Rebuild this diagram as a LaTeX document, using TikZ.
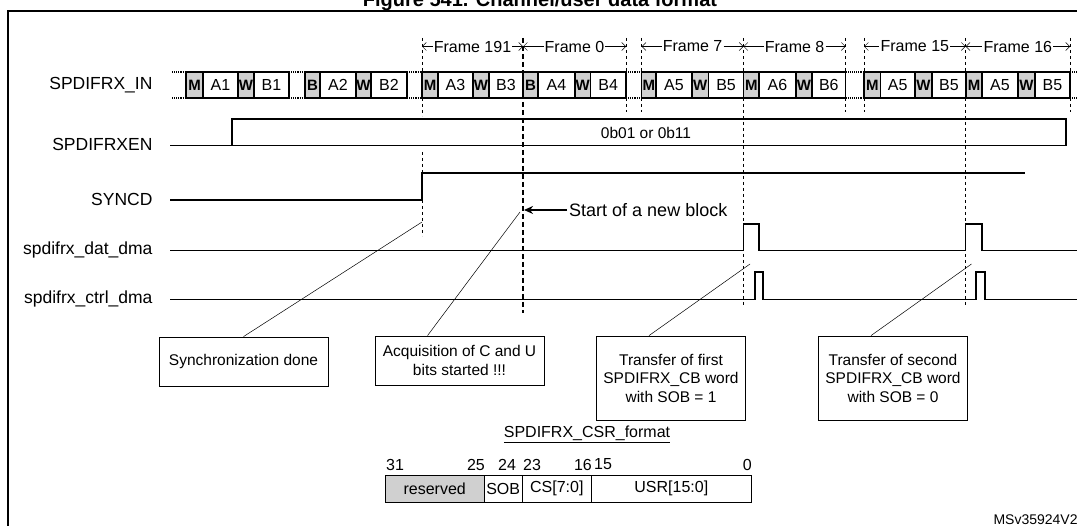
\documentclass[tikz,border=0pt]{standalone}
\usepackage{fontspec}
\setmainfont{Liberation Sans}
\usetikzlibrary{arrows.meta}
\definecolor{sg}{HTML}{D0D0D0}
\newcommand{\fs}[1]{\fontsize{#1}{#1}\selectfont}
\begin{document}
\begin{tikzpicture}[x=1pt,y=-1pt,
  sig/.style={line width=1.1pt},
  slot/.style={draw,line width=1.1pt},
  thin dash/.style={line width=0.5pt,dash pattern=on 3pt off 3pt},
  lbl/.style={font=\fs{17.5},anchor=east},
  callout/.style={draw,line width=0.8pt,align=center,font=\fontsize{15.5}{18.5}\selectfont,inner sep=0pt},
  leader/.style={line width=0.5pt}]
\useasboundingbox (0,0) rectangle (1077,526);
% title and frame
\node[font=\bfseries\fs{20},anchor=base] (title) at (540,7) {Figure 541. Channel/user data format};
\draw[line width=1.5pt] (8,526) -- (8,11) -- (1077,11);
% signal labels
\node[lbl] (lin) at (156,85) {SPDIFRX\_IN};
\node[lbl] (len) at (156,144) {SPDIFRXEN};
\node[lbl] (lsy) at (156,199) {SYNCD};
\node[lbl] (lda) at (156,250) {spdifrx\_dat\_dma};
\node[lbl] (lct) at (156,299) {spdifrx\_ctrl\_dma};
% frame dashed guides
\foreach \x in {626,641.6,845.7,864,1070} \draw[thin dash] (\x,38) -- (\x,112);
\draw[thin dash] (422,38) -- (422,116);
\draw[thin dash] (422,152) -- (422,236);
\draw[thin dash] (743.5,38) -- (743.5,305);
\draw[thin dash] (965.7,38) -- (965.7,305);
% dotted gap lines
\foreach \a/\b in {172/186,289/305,407/422,626/641.6,845.7/864,1070/1077}{
  \draw[densely dotted,line width=1.1pt] (\a,72) -- (\b,72);
  \draw[densely dotted,line width=1.1pt] (\a,98) -- (\b,98);}
% slots
\foreach \a/\b/\t/\g in {186/203/M/1,203/238/A1/0,238/254/W/1,254/289/B1/0,
  305/320/B/1,320/356/A2/0,356/371/W/1,371/407/B2/0,
  422/438/M/1,438/473/A3/0,473/489/W/1,489/523/B3/0,
  523/538/B/1,538/575/A4/0,575/590.5/W/1,590.5/626/B4/0,
  641.6/656/M/1,656/692/A5/0,692/708.6/W/1,708.6/743.5/B5/0,
  743.5/759/M/1,759/796/A6/0,796/812/W/1,812/845.7/B6/0,
  864/880.5/M/1,880.5/915/A5/0,915/932/W/1,932/966/B5/0,
  966/982/M/1,982/1018/A5/0,1018/1035/W/1,1035/1070/B5/0}{
  \ifnum\g=1
    \draw[slot,fill=sg] (\a,72) rectangle (\b,98);
    \node[font=\bfseries\fs{15}] at ({(\a+\b)/2},85) {\t};
  \else
    \draw[slot,fill=white] (\a,72) rectangle (\b,98);
    \node[font=\fs{16}] at ({(\a+\b)/2},85) {\t};
  \fi}
% frame dimension labels
\foreach \a/\b/\t in {422/523/Frame 191,523/626/Frame 0,641.6/743.5/Frame 7,743.5/845.7/Frame 8,864/965.7/Frame 15,965.7/1070/Frame 16}{
  \node[font=\fs{16},inner xsep=1pt] (f) at ({(\a+\b)/2},46.5) {\t};
  \draw[line width=0.5pt,{Straight Barb[length=4pt]}-] (\a,46.5) -- (f.west);
  \draw[line width=0.5pt,-{Straight Barb[length=4pt]}] (f.east) -- (\b,46.5);}
% thick dashed block start
\draw[line width=2pt,dash pattern=on 5pt off 3pt] (523,38) -- (523,313);
% SPDIFRXEN
\draw[sig] (170,145.5) -- (232,145.5) -- (232,119) -- (1066,119) -- (1066,145.5) -- (232,145.5);
\node[font=\fs{15.5}] (enval) at (646,133) {0b01 or 0b11};
% SYNCD
\draw[sig] (170,200) -- (422,200) -- (422,173) -- (1024.6,173);
% start of new block
\node[font=\fs{18},anchor=west,inner xsep=2pt] (snb) at (567,210) {Start of a new block};
\coordinate (blk) at (524,210);
\draw[line width=1.6pt,-{Stealth[length=9pt,width=8pt]}] (snb.west) -- (blk);
% dma signals
\draw[sig] (170,250.5) -- (743.5,250.5) -- (743.5,224) -- (759,224) -- (759,250.5) -- (965.7,250.5) -- (965.7,224) -- (982,224) -- (982,250.5) -- (1077,250.5);
\draw[sig] (170,299.5) -- (755,299.5) -- (755,272) -- (763,272) -- (763,299.5) -- (976,299.5) -- (976,272) -- (985,272) -- (985,299.5) -- (1077,299.5);
% callouts
\node[callout,minimum width=169pt,minimum height=49pt] (c1) at (243.5,361.5) {Synchronization done};
\node[callout,minimum width=169pt,minimum height=49pt] (c2) at (459.5,360.5) {Acquisition of C and U\\bits started !!!};
\node[callout,minimum width=149pt,minimum height=84pt] (c3) at (671,378) {Transfer of first\\SPDIFRX\_CB word\\with SOB = 1};
\node[callout,minimum width=149pt,minimum height=84pt] (c4) at (893,378) {Transfer of second\\SPDIFRX\_CB word\\with SOB = 0};
\coordinate (p1) at (422,222);
\coordinate (p2) at (520,212);
\coordinate (p3) at (750,264);
\coordinate (p4) at (971.5,264);
\draw[leader] (c1.north) -- (p1);
\draw[leader] ([xshift=-32pt]c2.north) -- (p2);
\draw[leader] ([xshift=-22pt]c3.north) -- (p3);
\draw[leader] ([xshift=-22pt]c4.north) -- (p4);
% CSR format
\node[font=\fs{16}] (csrt) at (587,434) {\underline{SPDIFRX\_CSR\_format}};
\tikzset{bitn/.style={font=\fs{16}}}
\node[bitn,anchor=west,inner xsep=0pt] at (386,464.5) {31};
\node[bitn,anchor=east,inner xsep=0pt] at (485,464.5) {25};
\node[bitn] at (507,464.5) {24};
\node[bitn] at (532,464.5) {23};
\node[bitn,anchor=east,inner xsep=0pt] at (592,464.5) {16};
\node[bitn,anchor=west,inner xsep=0pt] at (594,464.5) {15};
\node[bitn,anchor=east,inner xsep=0pt] at (752,464.5) {0};
\draw[slot,line width=0.9pt,fill=sg] (385,475.5) rectangle (484.4,502);
\draw[slot,line width=0.9pt] (484.4,475.5) rectangle (522,502);
\draw[slot,line width=0.9pt] (522,475.5) rectangle (591.6,502);
\draw[slot,line width=0.9pt] (591.6,475.5) rectangle (751,502);
\node[bitn] (r) at (434.7,488.7) {reserved};
\node[bitn,inner xsep=0pt] (s) at (503.2,488.7) {SOB};
\node[bitn] (cs) at (556.8,488.7) {CS[7:0]};
\node[bitn] (u) at (671.3,488.7) {USR[15:0]};
\node[font=\fs{14},anchor=west] (ms) at (990,520) {MSv35924V2};
\end{tikzpicture}
\end{document}
